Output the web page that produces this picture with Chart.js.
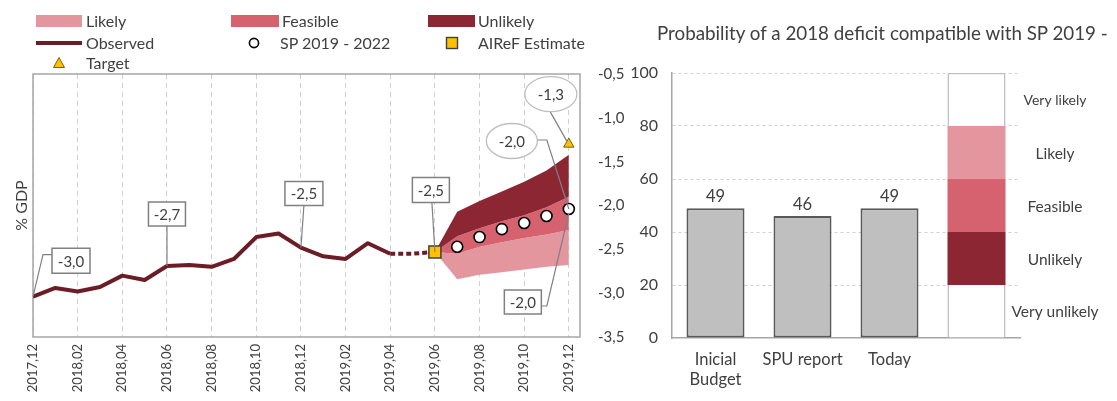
<!DOCTYPE html>
<html>
<head>
<meta charset="utf-8">
<script src="https://cdn.jsdelivr.net/npm/chart.js@4.4.1/dist/chart.umd.min.js"></script>
<style>
  html, body { margin: 0; padding: 0; background: #fff; width: 1117px; height: 401px; overflow: hidden; }
  body { position: relative; font-family: Lato, "Open Sans", sans-serif; color: #404040; }
  canvas { position: absolute; top: 0; }
  #fanChart { left: 0; }
  #probChart { left: 628px; }
  .lg { position: absolute; font-size: 16px; line-height: 18px; white-space: nowrap; }
  .sw { position: absolute; }
  #probTitle { position: absolute; left: 657px; top: 21px; font-size: 18.8px; line-height: 24px; white-space: nowrap; }
</style>
</head>
<body>
<canvas id="fanChart" width="640" height="401"></canvas>
<canvas id="probChart" width="489" height="401"></canvas>

<!-- legend of the deficit chart -->
<div class="sw" style="left:36px;top:15px;width:46px;height:12px;background:#E3969E"></div>
<div class="lg" style="left:86px;top:12px">Likely</div>
<div class="sw" style="left:231px;top:15px;width:48px;height:12px;background:#D6616F"></div>
<div class="lg" style="left:282px;top:12px">Feasible</div>
<div class="sw" style="left:428px;top:15px;width:47px;height:12px;background:#8C2633"></div>
<div class="lg" style="left:478px;top:12px">Unlikely</div>

<div class="sw" style="left:36px;top:41px;width:46px;height:4px;background:#6B1C25"></div>
<div class="lg" style="left:86px;top:34px">Observed</div>
<svg class="sw" style="left:247px;top:36px" width="14" height="14"><circle cx="7" cy="7" r="4.6" fill="#fff" stroke="#000" stroke-width="1.6"/></svg>
<div class="lg" style="left:280px;top:34px">SP 2019 - 2022</div>
<svg class="sw" style="left:445px;top:36px" width="14" height="14"><rect x="1.5" y="1.5" width="11" height="11" fill="#FFC000" stroke="#404040" stroke-width="1.4"/></svg>
<div class="lg" style="left:478px;top:34px">AIReF Estimate</div>

<svg class="sw" style="left:52px;top:56px" width="14" height="13"><polygon points="7,1.5 12.5,11.5 1.5,11.5" fill="#FFC000" stroke="#7F6000" stroke-width="1"/></svg>
<div class="lg" style="left:86px;top:54px">Target</div>

<div id="probTitle">Probability of a 2018 deficit compatible with SP 2019 -</div>

<script>
// ---------- monthly deficit path (% GDP) ----------
const months = ['2017,12', '2018,01', '2018,02', '2018,03', '2018,04', '2018,05', '2018,06',
                '2018,07', '2018,08', '2018,09', '2018,10', '2018,11', '2018,12', '2019,01',
                '2019,02', '2019,03', '2019,04', '2019,05', '2019,06', '2019,07', '2019,08',
                '2019,09', '2019,10', '2019,11', '2019,12'];

// observed, 2017,12 .. 2019,04
const observed = [-3.04, -2.94, -2.98, -2.93, -2.80, -2.85, -2.69, -2.68, -2.70,
                  -2.61, -2.36, -2.32, -2.48, -2.58, -2.61, -2.43, -2.55];
// provisional link, 2019,04 .. 2019,06
const observedLink = [-2.55, -2.55, -2.53];
// AIReF estimate, 2019,06
const airefEstimate = [-2.53];
// Stability Programme path, 2019,07 .. 2019,12
const spPath = [-2.47, -2.36, -2.27, -2.20, -2.12, -2.04];
// year-end target, 2019,12
const target = [-1.30];

// fan chart band edges, 2019,06 .. 2019,12
const fanUpper       = [-2.53, -2.07, -1.95, -1.84, -1.73, -1.60, -1.42];
const fanUnlikelyLow = [-2.53, -2.35, -2.26, -2.18, -2.11, -2.02, -1.90];
const fanFeasibleLow = [-2.53, -2.55, -2.47, -2.42, -2.37, -2.33, -2.28];
const fanLower       = [-2.53, -2.84, -2.79, -2.76, -2.73, -2.70, -2.68];

// ---------- probability panel ----------
const probCategories = [['Inicial', 'Budget'], 'SPU report', 'Today', ''];
const probValues = [49, 46, 49];
const bandNames = ['Very unlikely', 'Unlikely', 'Feasible', 'Likely', 'Very likely'];
const bandSizes = [20, 20, 20, 20, 20];

// ---------- helpers ----------
const TEXT = '#404040';
const FONT = 'Lato, "Open Sans", sans-serif';
const C_LIKELY = '#E3969E', C_FEASIBLE = '#D6616F', C_UNLIKELY = '#8C2633', C_OBS = '#6B1C25';

const atMonth = (label) => months.indexOf(label);
function series(values, startLabel) {
  const s = atMonth(startLabel);
  return values.map((v, i) => ({ x: s + i, y: v }));
}
const fmt = (v) => v.toFixed(1).replace('.', ',');

// frame around the plotting area
const framePlugin = {
  id: 'frame',
  beforeDatasetsDraw(chart) {
    const { ctx, chartArea: a } = chart;
    ctx.save();
    ctx.strokeStyle = '#A6A6A6';
    ctx.lineWidth = 1.5;
    ctx.strokeRect(a.left, a.top, a.right - a.left, a.bottom - a.top);
    ctx.restore();
  }
};

// value call-outs: dataset, point, label offset, leader path
const callouts = [
  { ds: 4, pt: 0,  shape: 'box',     dx: 38,  dy: -36,  w: 38, h: 25, path: [[19, -42], [10, -42], [0, 0]] },
  { ds: 4, pt: 6,  shape: 'box',     dx: 0,   dy: -52,  w: 37, h: 24, path: [[0, -40], [0, 0]] },
  { ds: 4, pt: 12, shape: 'box',     dx: 3,   dy: -54,  w: 38, h: 24, path: [[3, -42], [0, 0]] },
  { ds: 2, pt: 0,  shape: 'box',     dx: -4,  dy: -62,  w: 37, h: 25, path: [[-3, -50], [0, 0]] },
  { ds: 0, pt: 0,  shape: 'ellipse', dx: -18, dy: -50,  w: 52, h: 35, path: [[-19, -33], [-2, -3]] },
  { ds: 1, pt: 5,  shape: 'ellipse', dx: -57, dy: -68,  w: 51, h: 35, path: [[-32, -69], [-22, -69], [0, 0]] },
  { ds: 1, pt: 5,  shape: 'box',     dx: -46, dy: 93,   w: 37, h: 24, path: [[-28, 97], [-22, 97], [0, 4]] }
];

const calloutPlugin = {
  id: 'callouts',
  afterDatasetsDraw(chart) {
    const ctx = chart.ctx;
    ctx.save();
    callouts.forEach(c => {
      const el = chart.getDatasetMeta(c.ds).data[c.pt];
      const val = chart.data.datasets[c.ds].data[c.pt].y;
      const px = el.x, py = el.y;
      ctx.strokeStyle = '#808080';
      ctx.lineWidth = 1.2;
      ctx.beginPath();
      c.path.forEach((p, i) => {
        if (i === 0) ctx.moveTo(px + p[0], py + p[1]); else ctx.lineTo(px + p[0], py + p[1]);
      });
      ctx.stroke();
      const cx = px + c.dx, cy = py + c.dy;
      ctx.fillStyle = '#fff';
      ctx.beginPath();
      if (c.shape === 'box') {
        ctx.rect(cx - c.w / 2, cy - c.h / 2, c.w, c.h);
        ctx.strokeStyle = '#808080';
        ctx.lineWidth = 1.5;
      } else {
        ctx.ellipse(cx, cy, c.w / 2, c.h / 2, 0, 0, Math.PI * 2);
        ctx.strokeStyle = '#BFBFBF';
        ctx.lineWidth = 1.3;
      }
      ctx.fill();
      ctx.stroke();
      ctx.fillStyle = TEXT;
      ctx.font = '15px ' + FONT;
      ctx.textAlign = 'center';
      ctx.textBaseline = 'middle';
      ctx.fillText(fmt(val), cx, cy + 1);
    });
    ctx.restore();
  }
};

new Chart(document.getElementById('fanChart'), {
  type: 'line',
  data: {
    datasets: [
      { label: 'Target', data: series(target, '2019,12'), showLine: false,
        pointStyle: 'triangle', pointRadius: 6, backgroundColor: '#FFC000', borderColor: '#7F6000', borderWidth: 1 },
      { label: 'SP 2019 - 2022', data: series(spPath, '2019,07'), showLine: false,
        pointStyle: 'circle', pointRadius: 5.5, backgroundColor: '#fff', borderColor: '#000', borderWidth: 1.6 },
      { label: 'AIReF Estimate', data: series(airefEstimate, '2019,06'), showLine: false,
        pointStyle: 'rect', pointRadius: 8.5, backgroundColor: '#FFC000', borderColor: '#404040', borderWidth: 1.5 },
      { label: 'Observed (provisional)', data: series(observedLink, '2019,04'),
        borderColor: C_OBS, borderWidth: 4, borderDash: [5, 3], pointRadius: 0, fill: false },
      { label: 'Observed', data: series(observed, '2017,12'),
        borderColor: C_OBS, borderWidth: 4, pointRadius: 0, fill: false, borderJoinStyle: 'round' },
      { label: 'Unlikely', data: series(fanUpper, '2019,06'),
        borderWidth: 0, pointRadius: 0, fill: '+1', backgroundColor: C_UNLIKELY },
      { label: 'Feasible', data: series(fanUnlikelyLow, '2019,06'),
        borderWidth: 0, pointRadius: 0, fill: '+1', backgroundColor: C_FEASIBLE },
      { label: 'Likely', data: series(fanFeasibleLow, '2019,06'),
        borderWidth: 0, pointRadius: 0, fill: '+1', backgroundColor: C_LIKELY },
      { label: 'Fan floor', data: series(fanLower, '2019,06'),
        borderWidth: 0, pointRadius: 0, fill: false }
    ]
  },
  options: {
    responsive: false,
    animation: false,
    devicePixelRatio: 1,
    layout: { padding: { top: 74, left: 0, right: 0, bottom: 0 } },
    elements: { line: { tension: 0 } },
    plugins: { legend: { display: false }, tooltip: { enabled: false } },
    scales: {
      x: {
        type: 'linear', min: 0, max: 24.5,
        // one tick every second month, taken from the month list
        afterBuildTicks: (s) => {
          s.ticks = months.map((m, i) => ({ value: i })).filter(t => t.value % 2 === 0);
        },
        afterFit: (s) => { s.height = 64; },
        ticks: {
          autoSkip: false, minRotation: 90, maxRotation: 90, padding: 7,
          color: TEXT, font: { family: FONT, size: 13 },
          callback: (v) => months[v]
        },
        grid: { display: true, color: '#D0D0D0', lineWidth: 1, drawTicks: false },
        border: { display: false, dash: [5, 4] }
      },
      y: {
        position: 'right', min: -3.5, max: -0.5,
        afterFit: (s) => { s.width = 60; },
        ticks: { stepSize: 0.5, padding: 10, color: TEXT, font: { family: FONT, size: 15 },
                 callback: (v) => fmt(v) },
        grid: { display: false },
        border: { display: false }
      },
      yTitle: {
        type: 'linear', position: 'left', display: true,
        afterFit: (s) => { s.width = 33; },
        ticks: { display: false },
        grid: { display: false },
        border: { display: false },
        title: { display: true, text: '% GDP', color: TEXT, font: { family: FONT, size: 16 },
                 padding: { top: 12, bottom: 0 } }
      }
    }
  },
  plugins: [framePlugin, calloutPlugin]
});

// ---------- probability chart ----------
const bandColors = ['#FFFFFF', C_UNLIKELY, C_FEASIBLE, C_LIKELY, '#FFFFFF'];
const bandBorders = [
  { left: 1.5, right: 1.5, top: 0, bottom: 0 }, 0, 0, 0,
  { left: 1.5, right: 1.5, top: 1.5, bottom: 0 }
];

const probLabelsPlugin = {
  id: 'probLabels',
  afterDatasetsDraw(chart) {
    const ctx = chart.ctx;
    ctx.save();
    ctx.fillStyle = TEXT;
    ctx.textAlign = 'center';
    ctx.textBaseline = 'middle';
    // values above the bars
    ctx.font = '16.5px ' + FONT;
    chart.getDatasetMeta(0).data.forEach((el, i) => {
      const v = chart.data.datasets[0].data[i];
      if (v == null) return;
      ctx.fillText(String(v), el.x, el.y - 11);
    });
    // band names beside the scale column
    const xText = chart.chartArea.right + 35;
    for (let d = 1; d < chart.data.datasets.length; d++) {
      const el = chart.getDatasetMeta(d).data[3];
      ctx.font = (d === 5 ? '14px ' : '15.5px ') + FONT;
      ctx.fillText(chart.data.datasets[d].label, xText, (el.y + el.base) / 2 + 1);
    }
    ctx.restore();
  }
};

const probDatasets = [{
  label: 'Probability',
  data: probValues.concat([null]),
  backgroundColor: '#BFBFBF', borderColor: '#595959', borderWidth: 2, borderSkipped: false
}];
bandNames.forEach((name, i) => {
  probDatasets.push({
    label: name,
    data: [null, null, null, bandSizes[i]],
    backgroundColor: bandColors[i], borderColor: '#BFBFBF',
    borderWidth: bandBorders[i], borderSkipped: false
  });
});

new Chart(document.getElementById('probChart'), {
  type: 'bar',
  data: { labels: probCategories, datasets: probDatasets },
  options: {
    responsive: false,
    animation: false,
    devicePixelRatio: 1,
    layout: { padding: { top: 73, left: 0, right: 97, bottom: 0 } },
    datasets: { bar: { categoryPercentage: 1, barPercentage: 0.667 } },
    plugins: { legend: { display: false }, tooltip: { enabled: false } },
    scales: {
      x: {
        stacked: true,
        afterFit: (s) => { s.height = 63; },
        ticks: { color: TEXT, font: { family: FONT, size: 16.5, lineHeight: 1.2 }, padding: 4, maxRotation: 0, autoSkip: false },
        grid: { display: false },
        border: { display: true, color: '#A6A6A6', width: 1.5 }
      },
      y: {
        stacked: true, min: 0, max: 100,
        afterFit: (s) => { s.width = 44; },
        ticks: { stepSize: 20, padding: 14, color: TEXT, font: { family: FONT, size: 16 } },
        grid: { color: (c) => c.tick && c.tick.value === 0 ? 'rgba(0,0,0,0)' : '#D0D0D0', lineWidth: 1, drawTicks: false },
        border: { display: true, color: '#A6A6A6', width: 1.5, dash: [3, 3] }
      }
    }
  },
  plugins: [probLabelsPlugin]
});
</script>
</body>
</html>
